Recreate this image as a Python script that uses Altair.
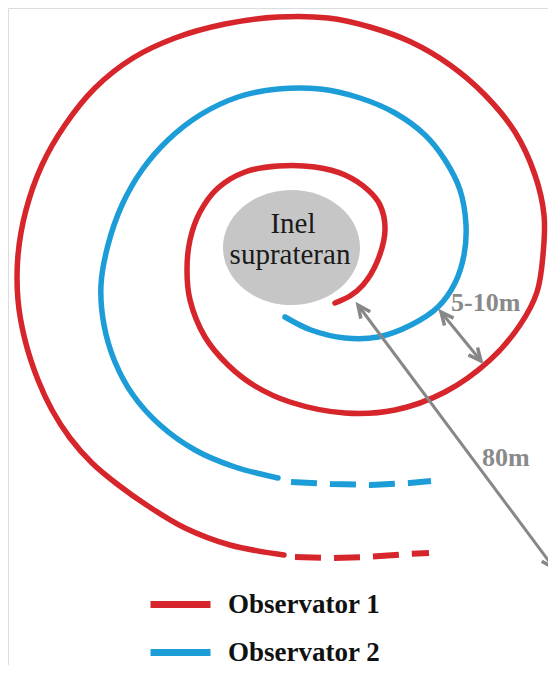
import math
import altair as alt
import pandas as pd

# ---------------- data (image pixel coordinates) ----------------
observers = ["Observator 1", "Observator 2"]
observer_colors = ["#d6252b", "#1d9dd8"]

# Observator 1 (red) spiral, from its inner end outward
red_x = [335, 350, 363, 377, 385, 380, 368, 345, 315, 278, 245, 218, 200, 190, 187, 190, 205, 228, 255, 290,
         345, 395, 445, 490, 520, 537, 543, 544, 535, 515, 485, 450, 411, 370, 328, 278, 225, 175, 133, 95,
         65, 42, 26, 18, 18, 25, 38, 52, 70, 92, 117, 148, 185, 230, 284]
red_y = [303, 296, 285, 262, 230, 205, 190, 175, 167, 166, 172, 188, 212, 240, 270, 300, 337, 365, 386, 402,
         413, 410, 392, 360, 325, 292, 255, 215, 175, 132, 95, 65, 42, 27, 18, 17, 24, 38, 58, 88,
         125, 165, 210, 255, 300, 340, 380, 410, 438, 463, 484, 506, 528, 545, 555]
red_dash_x = [295, 331, 366, 408, 429]
red_dash_y = [557, 558, 557, 554, 553]

# Observator 2 (blue) spiral, from its inner end outward
blue_x = [285, 311, 345, 378, 411, 438, 455, 464, 466, 460, 445, 425, 395, 360, 320, 278, 238, 200, 168, 142,
          122, 108, 101, 104, 115, 133, 160, 195, 235, 278]
blue_y = [317, 330, 338, 337, 325, 307, 283, 255, 225, 190, 160, 135, 113, 98, 89, 89, 97, 115, 140, 170,
          205, 245, 285, 325, 362, 395, 425, 450, 467, 478]
blue_dash_x = [291, 331, 371, 410, 431]
blue_dash_y = [482, 484, 485, 483, 481]

# central ring
ring_label = ["Inel", "suprateran"]
ring_cx, ring_cy = [291.5], [247.5]

# distance arrows (start -> end) and their labels
arrow_x1 = [358, 441]
arrow_y1 = [305, 312]
arrow_x2 = [554, 481]
arrow_y2 = [568, 361]
arrow_text = ["80m", "5-10m"]
arrow_text_x = [482, 451]
arrow_text_y = [458, 303]

# ---------------- build tables ----------------
def path_df(xs, ys, obs):
    return pd.DataFrame({"x": xs, "y": ys, "order": list(range(len(xs))), "observer": obs})

solid = pd.concat([path_df(red_x, red_y, observers[0]), path_df(blue_x, blue_y, observers[1])])
dashed = pd.concat([path_df(red_dash_x, red_dash_y, observers[0]),
                    path_df(blue_dash_x, blue_dash_y, observers[1])])

arrows = pd.DataFrame({"x": arrow_x1, "y": arrow_y1, "x2": arrow_x2, "y2": arrow_y2})
heads = []
for x1, y1, x2, y2 in zip(arrow_x1, arrow_y1, arrow_x2, arrow_y2):
    a = math.degrees(math.atan2(x2 - x1, -(y2 - y1))) % 360
    heads.append({"x": x2, "y": y2, "angle": a})
    heads.append({"x": x1, "y": y1, "angle": (a + 180) % 360})
heads = pd.DataFrame(heads)
labels = pd.DataFrame({"x": arrow_text_x, "y": arrow_text_y, "text": arrow_text})
ring = pd.DataFrame({"x": ring_cx, "y": ring_cy})
ring_text = pd.DataFrame({"x": [293, 290], "y": [233, 264], "text": ring_label})

X = alt.X("x:Q", scale=alt.Scale(domain=[8, 548], nice=False, zero=False), axis=None)
Y = alt.Y("y:Q", scale=alt.Scale(domain=[665, 8], nice=False, zero=False), axis=None)
color_scale = alt.Scale(domain=observers, range=observer_colors)

ellipse = alt.Chart(ring).mark_point(
    shape="M -1 0 A 1 0.84 0 1 0 1 0 A 1 0.84 0 1 0 -1 0",
    size=137 ** 2, filled=True, fill="#c6c6c6", opacity=1, strokeWidth=0
).encode(x=X, y=Y)

ellipse_text = alt.Chart(ring_text).mark_text(
    font="Liberation Serif", fontSize=29, color="#1a1a1a", align="center", baseline="alphabetic"
).encode(x=X, y=Y, text="text:N")

solid_lines = alt.Chart(solid).mark_line(
    strokeWidth=5.5, strokeCap="round", strokeJoin="round", interpolate="catmull-rom"
).encode(
    x=X, y=Y, order="order:Q",
    color=alt.Color("observer:N", scale=color_scale, legend=alt.Legend(
        orient="none", legendX=139, legendY=563, title=None, symbolType="stroke",
        symbolSize=3600, symbolStrokeWidth=7, labelFont="Liberation Serif", labelFontSize=27,
        labelFontWeight="bold", labelColor="#111111", labelOffset=14, rowPadding=-17,
        padding=0, labelLimit=0)),
)

dashed_lines = alt.Chart(dashed).mark_line(
    strokeWidth=6, strokeDash=[26, 13], interpolate="linear"
).encode(
    x=X, y=Y, order="order:Q",
    color=alt.Color("observer:N", scale=color_scale, legend=None),
)

arrow_lines = alt.Chart(arrows).mark_rule(color="#878787", strokeWidth=3).encode(
    x=X, y=Y, x2="x2:Q", y2="y2:Q"
)

arrow_heads = alt.Chart(heads).mark_point(
    shape="M -0.6 1.3 L 0 0 L 0.6 1.3", size=380, filled=False,
    stroke="#878787", strokeWidth=3.5, opacity=1
).encode(x=X, y=Y, angle=alt.Angle("angle:Q", scale=None))

arrow_labels = alt.Chart(labels).mark_text(
    font="Liberation Serif", fontSize=26, fontWeight="bold", color="#8a8a8a",
    align="left", baseline="middle"
).encode(x=X, y=Y, text="text:N")

chart = alt.layer(
    ellipse, ellipse_text, solid_lines, dashed_lines, arrow_lines, arrow_heads, arrow_labels
).properties(
    width=540, height=657, padding=0, autosize=alt.AutoSizeParams(type="none")
).configure_view(stroke=None).configure(background="white")

chart.save("out.html", embed_options={"renderer": "svg", "actions": False})
